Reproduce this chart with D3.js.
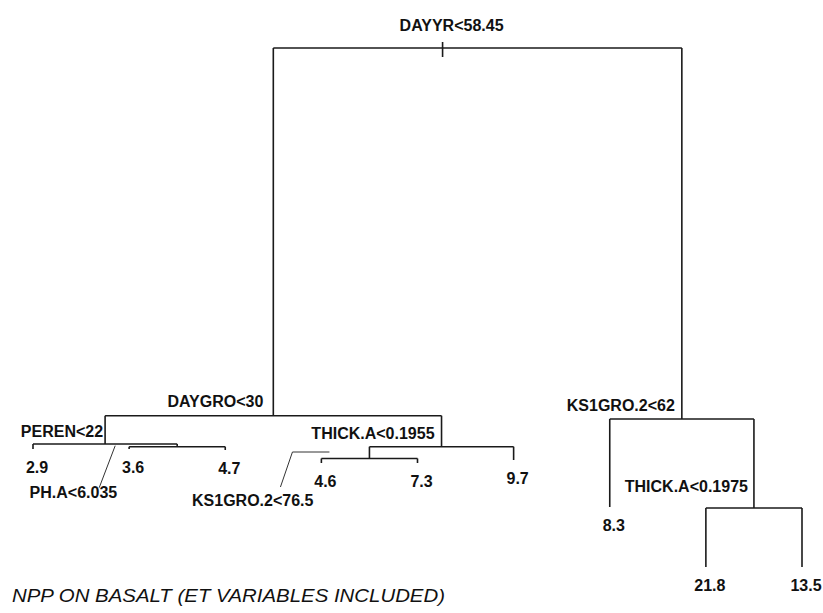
<!DOCTYPE html>
<html>
<head>
<meta charset="utf-8">
<script src="https://cdn.jsdelivr.net/npm/d3@7"></script>
<style>
  html, body { margin: 0; padding: 0; background: #ffffff; }
  svg { display: block; }
</style>
</head>
<body>
<svg id="chart" width="823" height="613"></svg>
<script>
// ---------- DATA ----------
// node ids follow rpart/tree numbering: children of n are 2n and 2n+1
const nodeIds = [1, 2, 4, 8, 9, 18, 19, 5, 10, 20, 21, 11, 3, 6, 7, 14, 15];
const nodeLabels = ["DAYYR<58.45", "DAYGRO<30", "PEREN<22", "2.9", "PH.A<6.035", "3.6", "4.7",
  "THICK.A<0.1955", "KS1GRO.2<76.5", "4.6", "7.3", "9.7",
  "KS1GRO.2<62", "8.3", "THICK.A<0.1975", "21.8", "13.5"];
// node heights (deviance scale)
const nodeDeviance = [100, 29.56, 24.14, 23.18, 23.62, 23.18, 22.99,
  23.62, 21.36, 20.5, 20.5, 21.07,
  28.93, 12.07, 11.88, 0.57, 0.57];
const chartTitle = "NPP ON BASALT (ET VARIABLES INCLUDED)";

// ---------- LAYOUT (positions/styles, kept out of the data) ----------
const W = 823, H = 613;
const labelLayout = {
  1:  { anchor: "middle", dx: 0,   dy: -17 },
  2:  { anchor: "end", dx: -10, dy: -9 },
  4:  { anchor: "end", dx: -2,  dy: -7 },
  9:  { anchor: "end", dx: -60, dy: 51, leader: [[-78, 41], [-62, -1]] },
  5:  { anchor: "end", dx: -7,  dy: -8 },
  10: { anchor: "end", dx: -56, dy: 47.5, leader: [[-89, 28.5], [-77, -6.5], [-40, -6.5]] },
  3:  { anchor: "end", dx: -7,  dy: -8 },
  7:  { anchor: "end", dx: -6,  dy: -16 }
};
const rootTickShift = -35;   // the root mark sits left of the geometric midpoint in the original

const svg = d3.select("#chart");
svg.append("rect").attr("width", W).attr("height", H).attr("fill", "#ffffff");

const table = nodeIds.map((id, i) => ({ id, label: nodeLabels[i], dev: nodeDeviance[i] }));
const root = d3.stratify()
  .id(d => String(d.id))
  .parentId(d => d.id === 1 ? null : String(Math.floor(d.id / 2)))(table);
root.sort((a, b) => a.data.id - b.data.id);

const leaves = root.leaves();
const x = d3.scalePoint().domain(leaves.map(d => d.id)).range([33, 802]);
const y = d3.scaleLinear().domain([0, 100]).range([570, 48]);

root.eachAfter(n => {
  n.px = n.children ? (n.children[0].px + n.children[1].px) / 2 : x(n.id);
  n.py = y(n.data.dev);
});

const g = svg.append("g");
const stroke = "#1a1a1a";

// branches
root.each(n => {
  if (!n.children) return;
  const [l, r] = n.children;
  g.append("line").attr("x1", l.px).attr("x2", r.px).attr("y1", n.py).attr("y2", n.py)
    .attr("stroke", stroke).attr("stroke-width", 1.6);
  n.children.forEach(c => {
    g.append("line").attr("x1", c.px).attr("x2", c.px).attr("y1", n.py).attr("y2", c.py)
      .attr("stroke", stroke).attr("stroke-width", 1.6);
  });
});

// root tick
g.append("line")
  .attr("x1", root.px + rootTickShift).attr("x2", root.px + rootTickShift)
  .attr("y1", root.py - 6).attr("y2", root.py + 9)
  .attr("stroke", stroke).attr("stroke-width", 1.6);

// split labels
root.each(n => {
  if (!n.children) return;
  const L = labelLayout[n.data.id];
  const bx = n.data.id === 1 ? root.px + rootTickShift + 9 : n.px;
  g.append("text")
    .attr("x", bx + L.dx).attr("y", n.py + L.dy)
    .attr("text-anchor", L.anchor)
    .attr("font-family", "'Liberation Sans', Arial, sans-serif")
    .attr("font-weight", "bold").attr("font-size", 16)
    .attr("fill", "#111").text(n.data.label);
  if (L.leader) {
    g.append("path")
      .attr("d", d3.line()(L.leader.map(p => [n.px + p[0], n.py + p[1]])))
      .attr("fill", "none").attr("stroke", "#333").attr("stroke-width", 1);
  }
});

// leaf labels
leaves.forEach(n => {
  g.append("text")
    .attr("x", n.px + 4).attr("y", n.py + 24)
    .attr("text-anchor", "middle")
    .attr("font-family", "'Liberation Sans', Arial, sans-serif")
    .attr("font-weight", "bold").attr("font-size", 16)
    .attr("fill", "#111").text(n.data.label);
});

// title
svg.append("text")
  .attr("x", 12).attr("y", 602)
  .attr("font-family", "'Liberation Sans', Arial, sans-serif")
  .attr("font-style", "italic").attr("font-size", 18)
  .attr("textLength", 433).attr("lengthAdjust", "spacingAndGlyphs")
  .attr("fill", "#111").text(chartTitle);
</script>
</body>
</html>
